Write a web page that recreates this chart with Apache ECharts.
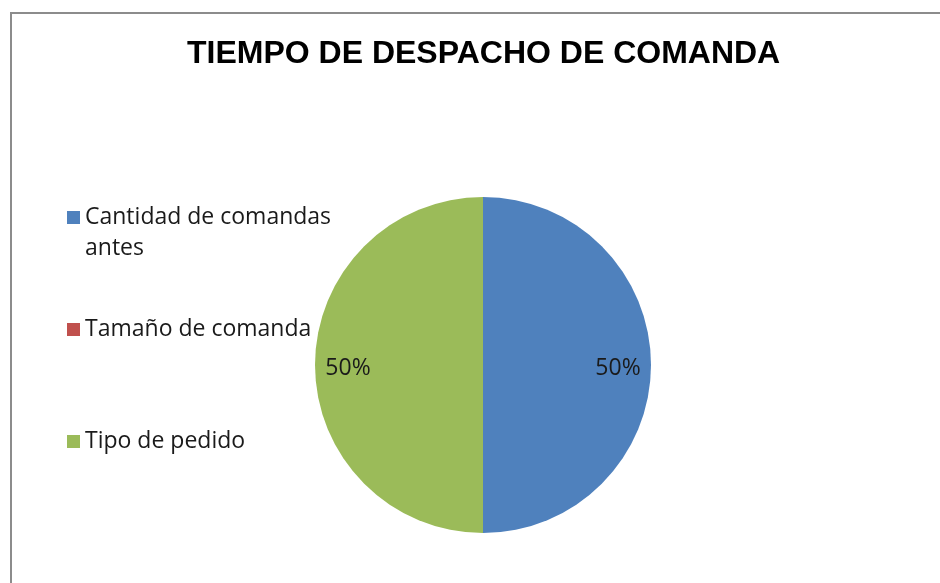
<!DOCTYPE html>
<html><head><meta charset="utf-8">
<script src="https://cdn.jsdelivr.net/npm/echarts@6/dist/echarts.min.js"></script>
<style>
html,body{margin:0;padding:0;background:#fff;overflow:hidden;width:940px;height:583px}
#frame{position:absolute;left:10px;top:12px;width:1000px;height:700px;border-left:2px solid #8c8c8c;border-top:2px solid #8c8c8c}
#c{position:absolute;left:0;top:0;width:940px;height:583px}
</style></head><body><div id="frame"></div><div id="c"></div>
<script>
const chartTitle = 'TIEMPO DE DESPACHO DE COMANDA';
const categories = ['Cantidad de comandas antes', 'Tamaño de comanda', 'Tipo de pedido'];
const values = [50, 0, 50];
const colors = ['#4F81BD', '#C0504D', '#9BBB59'];

const FONT = 'Open Sans';
const data = categories.map((n, i) => ({ name: n, value: values[i], itemStyle: { color: colors[i] } }));
const total = values.reduce((a, b) => a + b, 0);

const legendBase = {
  orient: 'vertical', left: 67, padding: 0, itemWidth: 13, itemHeight: 13, itemGap: 0,
  icon: 'rect', selectedMode: false,
  textStyle: { fontFamily: FONT, fontSize: 23, color: '#1a1a1a', lineHeight: 31 }
};

const chart = echarts.init(document.getElementById('c'), null, { renderer: 'canvas' });
chart.setOption({
  backgroundColor: 'transparent',
  animation: false,
  color: colors,
  title: {
    text: chartTitle, left: 187, top: 38, padding: 0,
    textStyle: { fontFamily: 'Liberation Sans', fontWeight: 'bold', fontSize: 32, color: '#000' }
  },
  legend: [
    Object.assign({}, legendBase, {
      data: [categories[0]], top: 171,
      formatter: n => '\n' + n.replace(' antes', '\nantes')
    }),
    Object.assign({}, legendBase, { data: [categories[1]], top: 314 }),
    Object.assign({}, legendBase, { data: [categories[2]], top: 426 })
  ],
  series: [
    {
      type: 'pie', center: [483, 365], radius: [0, 168], startAngle: 90, clockwise: true,
      data: data, silent: true, label: { show: false }, labelLine: { show: false },
      itemStyle: { borderWidth: 0 }
    },
    {
      type: 'pie', center: [483, 365], radius: [96, 168], startAngle: 90, clockwise: true,
      silent: true, avoidLabelOverlap: false,
      data: categories.map((n, i) => ({ name: n, value: values[i], itemStyle: { color: 'rgba(0,0,0,0)' } })),
      itemStyle: { borderWidth: 0 },
      labelLine: { show: false },
      label: {
        show: true, position: 'inside',
        formatter: p => p.value === 0 ? '' : '{v|' + Math.round(p.value / total * 100) + '%}',
        rich: { v: { fontFamily: FONT, fontSize: 23, color: '#1a1a1a', padding: [6, 0, 0, 0] } }
      }
    }
  ]
});
</script></body></html>
